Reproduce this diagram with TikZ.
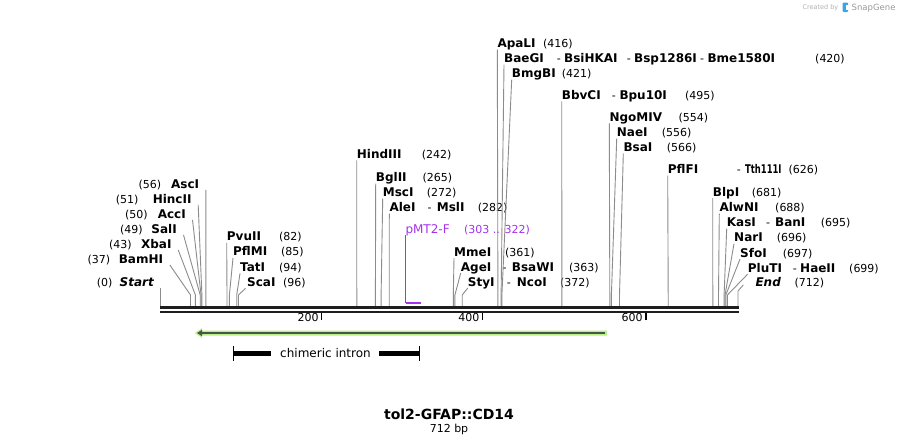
\documentclass[tikz,border=0pt]{standalone}
\usepackage{fontspec}
\setmainfont{DejaVu Sans}
\usetikzlibrary{arrows.meta}
\definecolor{linegray}{RGB}{140,140,140}
\definecolor{backbone}{RGB}{30,30,30}
\definecolor{primer}{RGB}{163,51,235}
\definecolor{featgreen}{RGB}{184,240,136}
\definecolor{featdark}{RGB}{75,85,70}
\definecolor{sgblue}{RGB}{60,165,225}
\newcommand\enzline[2]{\draw[cutline] #1 -- (#2 |- knee) -- (#2);}
\tikzset{
 enz/.style={font=\fontsize{12}{14}\selectfont\bfseries, anchor=base west, inner sep=0pt},
 enzL/.style={enz, anchor=base east},
 num/.style={font=\fontsize{11}{13}\selectfont, anchor=base west, inner sep=0pt},
 cutline/.style={draw=linegray, line width=0.9pt},
 tick/.style={draw=black, line width=1.5pt},
}
\begin{document}
\begin{tikzpicture}[x=1pt,y=-1pt]
\fill[white] (0,0) rectangle (899,445);
\useasboundingbox (0,0) rectangle (899,445);
\coordinate (knee) at (0,295);
% cut coordinates on the backbone
\foreach \n/\x in {c0/160.5,c37/190.5,c43/195.4,c49/200.2,c50/201.05,c51/201.9,c56/205.9,
  c82/227.0,c85/229.4,c94/236.7,c96/238.4,c242/356.8,c265/375.4,c272/381.1,c282/389.2,
  c361/453.3,c363/454.9,c372/462.2,c416/497.9,c420/501.1,c421/501.9,c495/561.9,
  c554/609.8,c556/611.4,c566/619.5,c626/668.2,c681/712.8,c688/718.5,c695/724.1,
  c696/725.0,c697/725.8,c699/727.4,c712/738.0}
  {\coordinate (\n) at (\x,306);}

% ---------- left group ----------
\node[enzL,font=\fontsize{12}{14}\selectfont\bfseries\itshape] (start) at (154,286.4) {Start};
\node[num] (n0) at (96.7,286.4) {(0)};
\node[enzL] (bamhi) at (163.3,263.4) {BamHI};
\node[num] (n37) at (87.3,263.4) {(37)};
\node[enzL] (xbai) at (171.7,248.4) {XbaI};
\node[num] (n43) at (109,248.4) {(43)};
\node[enzL] (sali) at (177,233.4) {SalI};
\node[num] (n49) at (120,233.4) {(49)};
\node[enzL] (acci) at (186,218.4) {AccI};
\node[num] (n50) at (125,218.4) {(50)};
\node[enzL] (hincii) at (191.7,203.4) {HincII};
\node[num] (n51) at (115.7,203.4) {(51)};
\node[enzL] (asci) at (199.3,188.4) {AscI};
\node[num] (n56) at (138.3,188.4) {(56)};

\enzline{([xshift=6.5pt,yshift=-1.5pt]start.base east)}{c0}
\enzline{([xshift=6.5pt,yshift=-1.5pt]bamhi.base east)}{c37}
\enzline{([xshift=6.5pt,yshift=-1.5pt]xbai.base east)}{c43}
\enzline{([xshift=6.5pt,yshift=-1.5pt]sali.base east)}{c49}
\enzline{([xshift=6.5pt,yshift=-1.5pt]acci.base east)}{c50}
\enzline{([xshift=6.5pt,yshift=-1.5pt]hincii.base east)}{c51}
\enzline{([xshift=6.5pt,yshift=-1.5pt]asci.base east)}{c56}

% ---------- right-hand labels ----------
\node[enz] (pvuii) at (226.7,240.9) {PvuII};
\node[num] (n82) at (279,240.9) {(82)};
\node[enz] (pflmi) at (233,255.9) {PflMI};
\node[num] (n85) at (281,255.9) {(85)};
\node[enz] (tati) at (240,271.4) {TatI};
\node[num] (n94) at (279,271.4) {(94)};
\node[enz] (scai) at (247,286.4) {ScaI};
\node[num] (n96) at (283,286.4) {(96)};

\node[enz] (hindiii) at (356.7,158.4) {HindIII};
\node[num] (n242) at (421.7,158.4) {(242)};
\node[enz] (bglii) at (375.7,181.7) {BglII};
\node[num] (n265) at (422.3,181.7) {(265)};
\node[enz] (msci) at (382.7,196.7) {MscI};
\node[num] (n272) at (426.7,196.7) {(272)};
\node[enz] (alei) at (389.3,211.7) {AleI};
\node[num] (d282) at (427.3,211.7) {-};
\node[enz] (msli) at (436.7,211.7) {MslI};
\node[num] (n282) at (477.7,211.7) {(282)};

\node[enz] (mmei) at (454,256.1) {MmeI};
\node[num] (n361) at (505,256.1) {(361)};
\node[enz] (agei) at (460.7,271.1) {AgeI};
\node[num] (d363) at (502.3,271.1) {-};
\node[enz] (bsawi) at (511.7,271.1) {BsaWI};
\node[num] (n363) at (569,271.1) {(363)};
\node[enz] (styi) at (467.7,286.1) {StyI};
\node[num] (d372) at (506.7,286.1) {-};
\node[enz] (ncoi) at (516.7,286.1) {NcoI};
\node[num] (n372) at (560,286.1) {(372)};

\node[enz] (apali) at (497.3,47.7) {ApaLI};
\node[num] (n416) at (543,47.7) {(416)};
\node[enz] (baegi) at (504,62.7) {BaeGI};
\node[num] (d420a) at (556.7,62.7) {-};
\node[enz] (bsihkai) at (564,62.7) {BsiHKAI};
\node[num] (d420b) at (626.7,62.7) {-};
\node[enz] (bsp) at (634,62.7) {Bsp1286I};
\node[num] (d420c) at (700,62.7) {-};
\node[enz] (bme) at (707.3,62.7) {Bme1580I};
\node[num] (n420) at (815,62.7) {(420)};
\node[enz] (bmgbi) at (511.7,77.7) {BmgBI};
\node[num] (n421) at (561.7,77.7) {(421)};
\node[enz] (bbvci) at (561.7,99.4) {BbvCI};
\node[num] (d495) at (611.7,99.4) {-};
\node[enz] (bpu) at (619.3,99.4) {Bpu10I};
\node[num] (n495) at (685,99.4) {(495)};

\node[enz] (ngomiv) at (609.3,121.4) {NgoMIV};
\node[num] (n554) at (678.3,121.4) {(554)};
\node[enz] (naei) at (616.7,136.7) {NaeI};
\node[num] (n556) at (661.7,136.7) {(556)};
\node[enz] (bsai) at (623.3,151.7) {BsaI};
\node[num] (n566) at (666.7,151.7) {(566)};
\node[enz] (pflfi) at (667.7,173.7) {PflFI};
\node[num] (d626) at (736.7,173.7) {-};
\node[enz] (tth) at (745,173.7) {\scalebox{0.7}[1]{Tth111I}};
\node[num] (n626) at (788.3,173.7) {(626)};

\node[enz] (blpi) at (712.7,196.1) {BlpI};
\node[num] (n681) at (751.7,196.1) {(681)};
\node[enz] (alwni) at (719.3,211.7) {AlwNI};
\node[num] (n688) at (775,211.7) {(688)};
\node[enz] (kasi) at (726.7,226.7) {KasI};
\node[num] (d695) at (766,226.7) {-};
\node[enz] (bani) at (775,226.7) {BanI};
\node[num] (n695) at (820.7,226.7) {(695)};
\node[enz] (nari) at (734,241.7) {NarI};
\node[num] (n696) at (776.7,241.7) {(696)};
\node[enz] (sfoi) at (740,257.1) {SfoI};
\node[num] (n697) at (782.7,257.1) {(697)};
\node[enz] (pluti) at (747.7,272.1) {PluTI};
\node[num] (d699) at (792.7,272.1) {-};
\node[enz] (haeii) at (800,272.1) {HaeII};
\node[num] (n699) at (849,272.1) {(699)};
\node[enz,font=\fontsize{12}{14}\selectfont\bfseries\itshape] (endl) at (755.3,286.4) {End};
\node[num] (n712) at (794.3,286.4) {(712)};

\enzline{([yshift=-2pt]pvuii.base west)}{c82}
\enzline{([yshift=-2pt]pflmi.base west)}{c85}
\enzline{([yshift=-2pt]tati.base west)}{c94}
\enzline{([xshift=-1.5pt,yshift=-2pt]scai.base west)}{c96}
\enzline{([yshift=-2pt]hindiii.base west)}{c242}
\enzline{([yshift=-2pt]bglii.base west)}{c265}
\enzline{([yshift=-2pt]msci.base west)}{c272}
\enzline{([yshift=-2pt]alei.base west)}{c282}
\enzline{([yshift=-2pt]mmei.base west)}{c361}
\enzline{([yshift=-2pt]agei.base west)}{c363}
\enzline{([yshift=-2pt]styi.base west)}{c372}
\enzline{([yshift=-2pt]apali.base west)}{c416}
\enzline{([yshift=-2pt]baegi.base west)}{c420}
\enzline{([yshift=-2pt]bmgbi.base west)}{c421}
\enzline{([yshift=-2pt]bbvci.base west)}{c495}
\enzline{([yshift=-2pt]ngomiv.base west)}{c554}
\enzline{([yshift=-2pt]naei.base west)}{c556}
\enzline{([yshift=-2pt]bsai.base west)}{c566}
\enzline{([yshift=-2pt]pflfi.base west)}{c626}
\enzline{([yshift=-2pt]blpi.base west)}{c681}
\enzline{([yshift=-2pt]alwni.base west)}{c688}
\enzline{([yshift=-2pt]kasi.base west)}{c695}
\enzline{([yshift=-2pt]nari.base west)}{c696}
\enzline{([yshift=-2pt]sfoi.base west)}{c697}
\enzline{([yshift=-2pt]pluti.base west)}{c699}
\draw[cutline] ([xshift=-12pt,yshift=1.5pt]endl.base west) -- (c712 |- 0,291) -- (c712);

% ---------- primer ----------
\node[enz,font=\fontsize{12}{14}\selectfont,text=primer] (pmt) at (405.3,233.7) {pMT2-F};
\node[num,text=primer] (npmt) at (464,233.7) {(303 .. 322)};
\coordinate (pa) at (406.2,302.7);
\coordinate (pb) at (420.6,302.7);
\draw[primer,line width=1pt] ([yshift=-1.5pt]pmt.base west) -- (pmt.base west |- pa);
\draw[primer,line width=2pt] (pa) -- (pb);

% ---------- backbone ----------
\coordinate (bbL) at (160,307.5);
\coordinate (bbR) at (738.5,307.5);
\draw[backbone,line width=3pt] (bbL) -- (bbR);
\draw[backbone,line width=2.3pt] ([yshift=-4.3pt]bbL) -- ([yshift=-4.3pt]bbR);
\coordinate (t200) at (321.7,313);
\coordinate (t400) at (482.6,313);
\coordinate (t600) at (645.8,313);
\foreach \t/\l in {t200/200,t400/400,t600/600}{
  \draw[tick] (\t) -- ++(0,7);
  \node[num,anchor=base east] (lab\l) at ([xshift=-3pt,yshift=-8.5pt]\t) {\l};
}

% ---------- feature arrow ----------
\coordinate (fL) at (195,333);
\coordinate (fR) at (607,333);
\fill[featgreen] (fL) -- ++(7,-5) -- ++(0,2.5) -- (fR |- 0,330.5) -- (fR |- 0,335.5) -- (202,335.5) -- ++(0,2.5) -- cycle;
\draw[featdark,line width=2.2pt,-{Triangle[length=5pt,width=6pt]}] ([xshift=-2pt]fR) -- ([xshift=2pt]fL);

% ---------- chimeric intron ----------
\node[font=\fontsize{12}{14}\selectfont,inner sep=0pt,anchor=base] (intron) at (325.5,357.5) {chimeric intron};
\coordinate (iL) at (233.3,353.5);
\coordinate (iR) at (419.3,353.5);
\draw[black,line width=5pt] (iL) -- (270.7,353.5);
\draw[black,line width=5pt] (379,353.5) -- (iR);
\draw[black,line width=1.3pt] ([yshift=7.5pt]iL) -- ([yshift=-7.5pt]iL);
\draw[black,line width=1.3pt] ([yshift=7.5pt]iR) -- ([yshift=-7.5pt]iR);

% ---------- title ----------
\node[font=\fontsize{14}{16}\selectfont\bfseries,inner sep=0pt,anchor=base] (title) at (449,419) {tol2-GFAP::CD14};
\node[font=\fontsize{11}{13}\selectfont,inner sep=0pt,anchor=base] (len) at (449,432.5) {712 bp};

% ---------- SnapGene credit ----------
\node[font=\fontsize{6.5}{8}\selectfont,text=black!30,inner sep=0pt,anchor=base east] (cred) at (838.5,9.5) {Created by};
\fill[sgblue,rounded corners=1pt] (842.5,2.5) rectangle (848,12);
\fill[white] (845.5,5) rectangle (848.5,9.5);
\node[font=\fontsize{8.5}{10}\selectfont,text=black!40,inner sep=0pt,anchor=base west] (sg) at (851.5,10.5) {SnapGene};
\end{tikzpicture}
\end{document}
